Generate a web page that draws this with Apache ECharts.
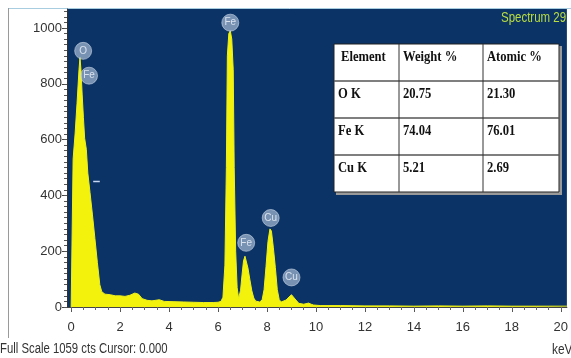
<!DOCTYPE html>
<html><head><meta charset="utf-8">
<script src="https://cdn.jsdelivr.net/npm/echarts@6/dist/echarts.min.js"></script>
<style>html,body{margin:0;padding:0;background:#fff}#c{width:571px;height:358px}</style>
</head><body><div id="c"></div>
<script>
// ---- data ----
const energyKeV = [0, 0.07, 0.08, 0.16, 0.24, 0.32, 0.36, 0.40, 0.45, 0.50, 0.55, 0.62, 0.68, 0.77, 0.87, 0.97, 1.07, 1.17, 1.25, 1.38,
  1.6, 1.8, 2.0, 2.2, 2.4, 2.6, 2.75, 2.9, 3.1, 3.3, 3.6, 3.8, 4.2, 4.6, 5.0, 5.4, 5.8, 6.0, 6.12,
  6.20, 6.28, 6.34, 6.38, 6.44, 6.50, 6.56, 6.62, 6.66, 6.72, 6.78, 6.84,
  6.92, 6.98, 7.04, 7.10, 7.16, 7.22, 7.30, 7.38, 7.46, 7.54, 7.62,
  7.70, 7.80, 7.88, 7.96, 8.04, 8.12, 8.18, 8.26, 8.34, 8.42, 8.50, 8.58,
  8.66, 8.78, 8.90, 9.00, 9.08, 9.18, 9.30, 9.5, 9.7, 9.8, 9.9, 10.2,
  11, 12, 13, 14, 15, 16, 17, 18, 19, 20.25];
const counts = [0, 0, 530, 620, 730, 850, 895, 850, 760, 680, 605, 565, 480, 410, 330, 245, 160, 80, 55, 46,
  44, 40, 40, 38, 42, 50, 46, 30, 24, 22, 26, 20, 19, 18, 17, 16, 16, 17, 20,
  35, 150, 500, 900, 980, 990, 960, 850, 500, 200, 70, 30,
  60, 115, 165, 182, 175, 140, 98, 58, 32, 21, 18,
  18, 25, 62, 145, 235, 280, 272, 212, 142, 62, 26, 18,
  16, 25, 36, 44, 40, 25, 13, 10, 14, 10, 7, 5,
  5, 4, 4, 3, 4, 3, 4, 3, 3, 3];
const xTickLabels = [0, 2, 4, 6, 8, 10, 12, 14, 16, 18, 20];
const yTickLabels = [0, 200, 400, 600, 800, 1000];
const peakNames = ['O', 'Fe', 'Fe', 'Fe', 'Cu', 'Cu'];
const peakEnergy = [0.49, 0.73, 6.5, 7.15, 8.15, 9.0];
const peakMarkerCounts = [918, 829, 1019, 230, 319, 106];
const tableHeader = ['Element', 'Weight %', 'Atomic %'];
const tableElement = ['O K', 'Fe K', 'Cu K'];
const tableWeight = ['20.75', '74.04', '5.21'];
const tableAtomic = ['21.30', '76.01', '2.69'];
const fullScaleText = 'Full Scale 1059 cts Cursor: 0.000';
const xUnit = 'keV';
const spectrumName = 'Spectrum 29';
const cursorMarker = [[0.9, 450], [1.17, 450]];

// ---- layout / style ----
const FONT = "'Liberation Sans',Arial,sans-serif";
const SERIF = "'Liberation Serif','Times New Roman',serif";
const xMin = -0.17, xMax = 20.25, yMin = 0, yMax = 1068;
const xMinor = []; for (let v = 0; v <= 20.001; v += 0.5) xMinor.push(+v.toFixed(2));
const yMinor = []; for (let v = 0; v <= 1060; v += 20) yMinor.push(v);

// table graphic
const tX = 334, tY = 44, colW = [65, 84, 76], rowH = 37;
const tW = colW.reduce((a, b) => a + b, 0), tH = rowH * 4;
const rows = [tableHeader].concat(tableElement.map((e, i) => [e, tableWeight[i], tableAtomic[i]]));
const tableChildren = [
  { type: 'rect', shape: { x: tX + 2, y: tY + 2, width: tW + 1, height: tH + 1 }, style: { fill: '#9a9a9a' } },
  { type: 'rect', shape: { x: tX, y: tY, width: tW, height: tH }, style: { fill: '#fff', stroke: '#222', lineWidth: 1 } }
];
for (let r = 1; r < 4; r++) {
  tableChildren.push({ type: 'line', shape: { x1: tX, y1: tY + r * rowH, x2: tX + tW, y2: tY + r * rowH }, style: { stroke: '#555', lineWidth: 1.5 } });
}
let cx = tX;
for (let c = 0; c < 2; c++) {
  cx += colW[c];
  tableChildren.push({ type: 'line', shape: { x1: cx, y1: tY, x2: cx, y2: tY + tH }, style: { stroke: '#333', lineWidth: 1 } });
}
rows.forEach((row, r) => {
  let x = tX;
  row.forEach((txt, c) => {
    tableChildren.push({ type: 'text', x: x + (r === 0 && c === 0 ? 7 : 4), y: tY + r * rowH + 13,
      style: { text: txt, font: 'bold 14px ' + SERIF, fill: '#111', verticalAlign: 'middle', align: 'left' }, scaleX: 0.9 });
    x += colW[c];
  });
});

const chart = echarts.init(document.getElementById('c'), null, { renderer: 'canvas' });
chart.setOption({
  animation: false,
  backgroundColor: '#ffffff',
  grid: { left: 67, right: 0, top: 9, bottom: 51, show: true, backgroundColor: '#0b3366', borderWidth: 0 },
  xAxis: [
    { type: 'value', min: xMin, max: xMax, position: 'bottom',
      axisLine: { show: true, onZero: false, lineStyle: { color: '#444', width: 1 } },
      axisTick: { show: true, customValues: xTickLabels, length: 5, lineStyle: { color: '#555' } },
      axisLabel: { customValues: xTickLabels, margin: 14, fontSize: 13, color: '#333', fontFamily: FONT, formatter: v => String(v) },
      splitLine: { show: false } },
    { type: 'value', min: xMin, max: xMax, position: 'bottom',
      axisLine: { show: false, onZero: false },
      axisTick: { show: true, customValues: xMinor, length: 3, lineStyle: { color: '#666' } },
      axisLabel: { show: false }, splitLine: { show: false } }
  ],
  yAxis: [
    { type: 'value', min: yMin, max: yMax, position: 'left',
      axisLine: { show: true, onZero: false, lineStyle: { color: '#333', width: 1 } },
      axisTick: { show: true, customValues: yTickLabels, length: 5, lineStyle: { color: '#444' } },
      axisLabel: { customValues: yTickLabels, margin: 5, fontSize: 13, color: '#333', fontFamily: FONT, formatter: v => String(v) },
      splitLine: { show: false } },
    { type: 'value', min: yMin, max: yMax, position: 'left',
      axisLine: { show: false, onZero: false },
      axisTick: { show: true, customValues: yMinor, length: 3, lineStyle: { color: '#555' } },
      axisLabel: { show: false }, splitLine: { show: false } }
  ],
  series: [
    { type: 'line', xAxisIndex: 0, yAxisIndex: 0, symbol: 'none', smooth: false, sampling: null,
      data: energyKeV.map((e, i) => [e, counts[i]]),
      lineStyle: { color: '#eef01a', width: 1 },
      areaStyle: { color: '#f2f20c', opacity: 1 },
      z: 2 },
    { type: 'line', xAxisIndex: 0, yAxisIndex: 0, symbol: 'none', silent: true,
      data: cursorMarker, lineStyle: { color: '#c8d8f0', width: 1.5 }, z: 3 },
    { type: 'scatter', xAxisIndex: 0, yAxisIndex: 0, symbol: 'circle', symbolSize: 17,
      data: peakNames.map((n, i) => ({ name: n, value: [peakEnergy[i], peakMarkerCounts[i]] })),
      itemStyle: { color: 'rgba(170,190,216,0.85)', borderColor: 'rgba(215,225,238,0.7)', borderWidth: 1 },
      label: { show: true, position: 'inside', formatter: p => p.name, color: '#f2f6fb', fontSize: 10, fontFamily: FONT },
      z: 5 }
  ],
  graphic: [
    { type: 'line', shape: { x1: 8, y1: 8.5, x2: 571, y2: 8.5 }, style: { stroke: '#a8cce0', lineWidth: 1 } },
    { type: 'line', shape: { x1: 8.5, y1: 8, x2: 8.5, y2: 338 }, style: { stroke: '#9a9a9a', lineWidth: 1 } },
    { type: 'text', x: 0, y: 349, scaleX: 0.81, style: { text: fullScaleText, font: '14px ' + FONT, fill: '#333', verticalAlign: 'middle' } },
    { type: 'text', x: 552, y: 350, scaleX: 0.85, style: { text: xUnit, font: '14px ' + FONT, fill: '#333', verticalAlign: 'middle' } },
    { type: 'text', x: 501, y: 18, scaleX: 0.82, style: { text: spectrumName, font: '14px ' + FONT, fill: '#b8dc40', verticalAlign: 'middle' } },
    { type: 'group', children: tableChildren }
  ]
});
</script>
</body></html>
